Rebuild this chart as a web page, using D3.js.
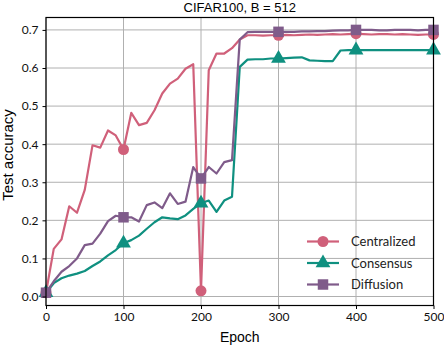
<!DOCTYPE html>
<html>
<head>
<meta charset="utf-8">
<script src="https://cdn.jsdelivr.net/npm/d3@7"></script>
<style>
  body { margin: 0; background: #fff; }
  .tick text { font-family: Lato, sans-serif; font-size: 12px; fill: #111; }
</style>
</head>
<body>
<script>
// epochs sampled every 10
const epochs = d3.range(0, 501, 10);

const centralized = [
    0.01, 0.125, 0.15, 0.237, 0.22, 0.28, 0.397, 0.391, 0.436, 0.423,
    0.386, 0.482, 0.45, 0.456, 0.489, 0.533, 0.559, 0.572, 0.598, 0.61,
    0.015, 0.594, 0.638, 0.638, 0.652, 0.675, 0.686, 0.686, 0.685, 0.686,
    0.686, 0.687, 0.686, 0.687, 0.688, 0.687, 0.688, 0.689, 0.688, 0.689,
    0.69, 0.689, 0.688, 0.689, 0.689, 0.688, 0.689, 0.688, 0.687, 0.688,
    0.688
];
const consensus = [
    0.01, 0.035, 0.048, 0.055, 0.06, 0.067, 0.08, 0.092, 0.108, 0.122,
    0.14, 0.148, 0.16, 0.178, 0.195, 0.208, 0.205, 0.203, 0.213, 0.23,
    0.245, 0.252, 0.222, 0.252, 0.262, 0.603, 0.622, 0.623, 0.623, 0.625,
    0.625, 0.626, 0.627, 0.628, 0.62, 0.619, 0.618, 0.618, 0.646, 0.647,
    0.647, 0.647, 0.647, 0.647, 0.647, 0.647, 0.647, 0.647, 0.647, 0.647,
    0.647
];
const diffusion = [
    0.01, 0.04, 0.065, 0.08, 0.1, 0.135, 0.139, 0.165, 0.198, 0.212,
    0.208, 0.208, 0.197, 0.24, 0.247, 0.232, 0.271, 0.243, 0.249, 0.34,
    0.31, 0.34, 0.323, 0.353, 0.358, 0.675, 0.694, 0.695, 0.695, 0.695,
    0.695, 0.695, 0.695, 0.696, 0.696, 0.697, 0.697, 0.698, 0.699, 0.699,
    0.70, 0.70, 0.70, 0.699, 0.699, 0.70, 0.70, 0.70, 0.699, 0.70,
    0.70
];

const seriesNames = ["Centralized", "Consensus", "Diffusion"];
const seriesValues = [centralized, consensus, diffusion];
const colors = ["#d0607a", "#0f9080", "#7f5b8a"];
const markerShapes = [d3.symbolCircle, d3.symbolTriangle, d3.symbolSquare];
const markerSizes = [95, 95, 110];

const xTicks = [0, 100, 200, 300, 400, 500];
const yTicks = [0.0, 0.1, 0.2, 0.3, 0.4, 0.5, 0.6, 0.7];

const width = 444, height = 346;
const margin = {left: 46, right: 10.5, top: 17.5, bottom: 40.5};

const svg = d3.select("body").append("svg")
    .attr("width", width)
    .attr("height", height);

const x = d3.scaleLinear().domain([0, 500]).range([margin.left, width - margin.right]);
const y = d3.scaleLinear().domain([-0.0236, 0.7326]).range([height - margin.bottom, margin.top]);

// grid
const grid = svg.append("g").attr("stroke", "#b0b0b0").attr("stroke-width", 1);
grid.selectAll(".gx").data(xTicks).join("line")
    .attr("x1", d => x(d)).attr("x2", d => x(d))
    .attr("y1", margin.top).attr("y2", height - margin.bottom);
grid.selectAll(".gy").data(yTicks).join("line")
    .attr("x1", margin.left).attr("x2", width - margin.right)
    .attr("y1", d => y(d)).attr("y2", d => y(d));

// lines
const line = d3.line()
    .x((d, i) => x(epochs[i]))
    .y(d => y(d));

const plot = svg.append("g");
seriesValues.forEach((vals, k) => {
    plot.append("path")
        .attr("d", line(vals))
        .attr("fill", "none")
        .attr("stroke", colors[k])
        .attr("stroke-width", 2.2)
        .attr("stroke-linejoin", "round");
});
seriesValues.forEach((vals, k) => {
    const pts = epochs.map((e, i) => [e, vals[i]]).filter(p => p[0] % 100 === 0);
    plot.selectAll(null).data(pts).join("path")
        .attr("transform", d => `translate(${x(d[0])},${y(d[1])})`)
        .attr("d", d3.symbol().type(markerShapes[k]).size(markerSizes[k]))
        .attr("fill", colors[k]);
});

// axes
svg.append("g")
    .attr("transform", `translate(0,${height - margin.bottom})`)
    .call(d3.axisBottom(x).tickValues(xTicks).tickFormat(d3.format("d")).tickSize(3.5).tickPadding(3))
    .call(g => g.select(".domain").remove());
svg.append("g")
    .attr("transform", `translate(${margin.left},0)`)
    .call(d3.axisLeft(y).tickValues(yTicks).tickFormat(d3.format(".1f")).tickSize(3.5).tickPadding(4))
    .call(g => g.select(".domain").remove());

svg.append("rect")
    .attr("x", margin.left).attr("y", margin.top)
    .attr("width", width - margin.left - margin.right)
    .attr("height", height - margin.top - margin.bottom)
    .attr("fill", "none")
    .attr("stroke", "#000")
    .attr("stroke-width", 1.2);

// texts
svg.append("text")
    .attr("x", (margin.left + width - margin.right) / 2).attr("y", 12)
    .attr("text-anchor", "middle")
    .style("font-family", "'Liberation Sans', Arial, sans-serif")
    .style("font-size", "13px")
    .text("CIFAR100, B = 512");
svg.append("text")
    .attr("x", (margin.left + width - margin.right) / 2).attr("y", 342)
    .attr("text-anchor", "middle")
    .style("font-family", "'Liberation Sans', Arial, sans-serif")
    .style("font-size", "14px")
    .text("Epoch");
svg.append("text")
    .attr("transform", "translate(13,155) rotate(-90)")
    .attr("text-anchor", "middle")
    .style("font-family", "'Liberation Sans', Arial, sans-serif")
    .style("font-size", "15px")
    .text("Test accuracy");

// legend
const legend = svg.append("g");
seriesNames.forEach((name, k) => {
    const ly = 241.5 + k * 21.5;
    legend.append("line")
        .attr("x1", 307).attr("x2", 339).attr("y1", ly).attr("y2", ly)
        .attr("stroke", colors[k]).attr("stroke-width", 2.2);
    legend.append("path")
        .attr("transform", `translate(323,${ly})`)
        .attr("d", d3.symbol().type(markerShapes[k]).size(markerSizes[k]))
        .attr("fill", colors[k]);
    legend.append("text")
        .attr("x", 351).attr("y", ly + 4.5)
        .style("font-family", "Lato, sans-serif")
        .style("font-size", "13px")
        .style("fill", "#222")
        .text(name);
});
</script>
</body>
</html>
